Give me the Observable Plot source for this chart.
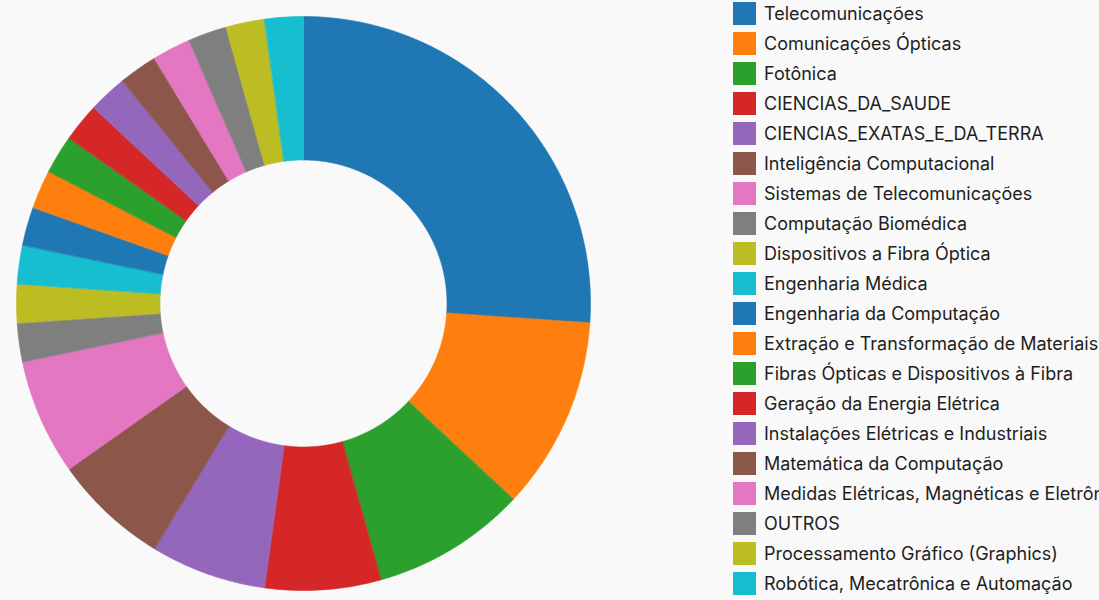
<!DOCTYPE html>
<html>
<head>
<meta charset="utf-8">
<script src="https://cdn.jsdelivr.net/npm/d3@7"></script>
<script src="https://cdn.jsdelivr.net/npm/@observablehq/plot@0.6"></script>
<style>
  html, body { margin: 0; padding: 0; background: #f9f9f9; overflow: hidden; width: 1099px; height: 600px; }
  #chart { position: absolute; left: 0; top: 0; }
  #legend { position: absolute; left: 733px; top: -2px; white-space: nowrap; font-family: Inter, "Noto Sans", sans-serif; font-size: 18px; color: #1e1e1e; }
  .row { height: 30px; display: flex; align-items: center; }
  .sw { width: 23px; height: 23px; margin-right: 8px; flex: none; }
</style>
</head>
<body>
<div id="chart"></div>
<div id="legend"></div>
<script>
const categories = [
  "Telecomunicações",
  "Comunicações Ópticas",
  "Fotônica",
  "CIENCIAS_DA_SAUDE",
  "CIENCIAS_EXATAS_E_DA_TERRA",
  "Inteligência Computacional",
  "Sistemas de Telecomunicações",
  "Computação Biomédica",
  "Dispositivos a Fibra Óptica",
  "Engenharia Médica",
  "Engenharia da Computação",
  "Extração e Transformação de Materiais",
  "Fibras Ópticas e Dispositivos à Fibra",
  "Geração da Energia Elétrica",
  "Instalações Elétricas e Industriais",
  "Matemática da Computação",
  "Medidas Elétricas, Magnéticas e Eletrônicas",
  "OUTROS",
  "Processamento Gráfico (Graphics)",
  "Robótica, Mecatrônica e Automação"
];
const values = [12, 5, 4, 3, 3, 3, 3, 1, 1, 1, 1, 1, 1, 1, 1, 1, 1, 1, 1, 1];
const palette = d3.schemeCategory10;
const colors = categories.map((_, i) => palette[i % palette.length]);

const R = 287, r = 143.5;
const data = categories.map((name, i) => ({name, value: values[i]}));
const arcs = d3.pie().sort(null).value(d => d.value)(data);

// Build polygon outline of each donut slice from the pie angles
const pts = [];
for (const a of arcs) {
  const n = Math.max(4, Math.ceil((a.endAngle - a.startAngle) / 0.01));
  for (let k = 0; k <= n; k++) {
    const t = a.startAngle + (a.endAngle - a.startAngle) * k / n;
    pts.push({name: a.data.name, x: R * Math.sin(t), y: R * Math.cos(t)});
  }
  for (let k = n; k >= 0; k--) {
    const t = a.startAngle + (a.endAngle - a.startAngle) * k / n;
    pts.push({name: a.data.name, x: r * Math.sin(t), y: r * Math.cos(t)});
  }
}

const plot = Plot.plot({
  width: 606,
  height: 600,
  margin: 0,
  style: {background: "transparent"},
  x: {domain: [-303, 303], axis: null},
  y: {domain: [-297, 303], axis: null},
  color: {type: "ordinal", domain: categories, range: colors},
  marks: [
    Plot.line(pts, {x: "x", y: "y", z: "name", fill: "name", stroke: "name", strokeWidth: 0.6, curve: "linear-closed"})
  ]
});
document.getElementById("chart").appendChild(plot);

const legend = document.getElementById("legend");
categories.forEach((c, i) => {
  const row = document.createElement("div");
  row.className = "row";
  const sw = document.createElement("span");
  sw.className = "sw";
  sw.style.background = colors[i];
  const tx = document.createElement("span");
  tx.textContent = c;
  row.appendChild(sw);
  row.appendChild(tx);
  legend.appendChild(row);
});
</script>
</body>
</html>
